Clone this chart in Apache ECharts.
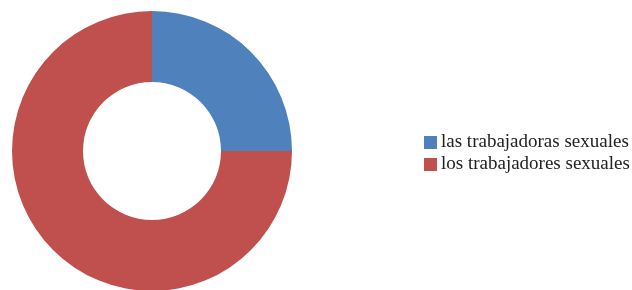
<!DOCTYPE html>
<html>
<head>
<meta charset="utf-8">
<script src="https://cdn.jsdelivr.net/npm/echarts@6/dist/echarts.min.js"></script>
<style>
  html, body { margin: 0; padding: 0; background: #fff; }
  #chart { width: 632px; height: 290px; }
</style>
</head>
<body>
<div id="chart"></div>
<script>
// 数据
const categories = ["las trabajadoras sexuales", "los trabajadores sexuales"]
const values = [25, 75]
const colors = ["#4F81BD", "#C0504D"]

const myChart = echarts.init(document.getElementById("chart"))

const option = {
  animation: false,
  color: colors,
  legend: {
    orient: "vertical",
    left: 419,
    top: 128,
    itemWidth: 13,
    itemHeight: 13,
    itemGap: 3,
    icon: "rect",
    textStyle: {
      fontFamily: "Liberation Serif",
      fontSize: 19,
      lineHeight: 19,
      color: "#222",
      padding: [0, 0, 0, -1],
    },
    data: categories,
  },
  series: [
    {
      type: "pie",
      center: [152, 151],
      radius: [69, 140],
      startAngle: 90,
      clockwise: true,
      label: { show: false },
      labelLine: { show: false },
      emphasis: { disabled: true },
      itemStyle: { borderColor: "#fff", borderWidth: 0 },
      data: categories.map((name, i) => ({ name: name, value: values[i] })),
    },
  ],
}
myChart.setOption(option)
</script>
</body>
</html>
